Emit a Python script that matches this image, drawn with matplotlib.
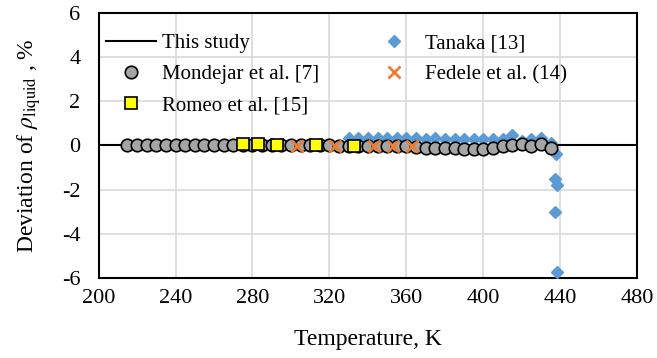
import matplotlib.pyplot as plt
import numpy as np

plt.rcParams['font.family'] = 'Liberation Serif'
plt.rcParams['mathtext.fontset'] = 'stix'
plt.rcParams['axes.unicode_minus'] = False

# This study (reference line)
T_study = [200, 480]
dev_study = [0, 0]

# Mondejar et al. [7]
T_mond = [215, 220, 225, 230, 235, 240, 245, 250, 255, 260, 265, 270, 275, 280,
          285, 290, 295, 300, 305, 310, 315, 320, 325, 330, 335, 340, 345, 350,
          355, 360, 365, 370, 375, 380, 385, 390, 395, 400, 405, 410, 415, 420,
          425, 430, 435]
dev_mond = [0.0, 0.0, 0.0, 0.0, 0.0, 0.0, 0.0, 0.0, 0.0, 0.0, 0.0, 0.0, 0.02, 0.02,
            0.02, 0.0, 0.0, 0.0, 0.0, 0.0, 0.0, 0.0, -0.02, -0.03, -0.05, -0.05,
            -0.05, -0.05, -0.05, -0.05, -0.08, -0.1, -0.1, -0.12, -0.12, -0.15,
            -0.18, -0.15, -0.1, -0.05, 0.0, 0.05, -0.05, 0.05, -0.1]

# Tanaka [13]
T_tan = [330, 335, 340, 345, 350, 355, 360, 365, 370, 375, 380, 385, 390, 395,
         400, 405, 410, 415, 420, 425, 430, 435, 438, 437, 438.5, 437, 438.5]
dev_tan = [0.35, 0.35, 0.35, 0.35, 0.33, 0.35, 0.33, 0.32, 0.3, 0.32, 0.3, 0.3,
           0.28, 0.3, 0.28, 0.3, 0.3, 0.45, 0.2, 0.3, 0.35, 0.12, -0.4, -1.5,
           -1.8, -3.0, -5.7]

# Fedele et al. (14)
T_fed = [303, 323, 343, 353, 363]
dev_fed = [-0.05, -0.03, -0.05, -0.05, -0.05]

# Romeo et al. [15]
T_rom = [275, 283, 293, 313, 333]
dev_rom = [0.08, 0.05, 0.03, 0.0, -0.03]

fig = plt.figure(figsize=(6.57, 3.58), dpi=100)
ax = fig.add_axes([0.150, 0.223, 0.820, 0.742])

ax.plot(T_study, dev_study, c='k', lw=1.5, label='This study', zorder=2)
ax.plot(T_tan, dev_tan, ls='none', marker='D', ms=6.5, c='#5B9BD5',
        label='Tanaka [13]', zorder=3)
ax.plot(T_mond, dev_mond, ls='none', marker='o', ms=9, mfc='#A5A5A5', mec='k',
        mew=1.2, label='Mondejar et al. [7]', zorder=4)
ax.plot(T_fed, dev_fed, ls='none', marker='x', ms=9, mew=2, c='#ED7D31',
        label='Fedele et al. (14)', zorder=6)
ax.plot(T_rom, dev_rom, ls='none', marker='s', ms=9, mfc='#FFFF00', mec='k',
        mew=1.2, label='Romeo et al. [15]', zorder=5)

ax.set_xlim(200, 480)
ax.set_ylim(-6, 6)
ax.set_xticks(np.arange(200, 481, 40))
ax.set_yticks(np.arange(-6, 7, 2))
ax.grid(True, color='#D9D9D9', lw=1.2)
ax.set_axisbelow(True)
for s in ax.spines.values():
    s.set_color('k')
    s.set_linewidth(1.5)
ax.tick_params(length=0, labelsize=16)
ax.tick_params(axis='x', pad=8)
ax.tick_params(axis='y', pad=13)

ax.set_xlabel('Temperature, K', fontsize=17, labelpad=15)
ax.set_ylabel(r'Deviation of $\rho_{\mathrm{liquid}}$ , %', fontsize=17, labelpad=14)

h, l = ax.get_legend_handles_labels()
order = [0, 2, 4, 1, 3]
ax.legend([h[i] for i in order], [l[i] for i in order], ncol=2, frameon=False,
          loc='upper left', bbox_to_anchor=(-0.014, 0.975), fontsize=15,
          handlelength=2.4, handletextpad=0.3, columnspacing=2.4,
          labelspacing=0.55, borderaxespad=0.3)

plt.savefig('out.png', dpi=100)
plt.close()
